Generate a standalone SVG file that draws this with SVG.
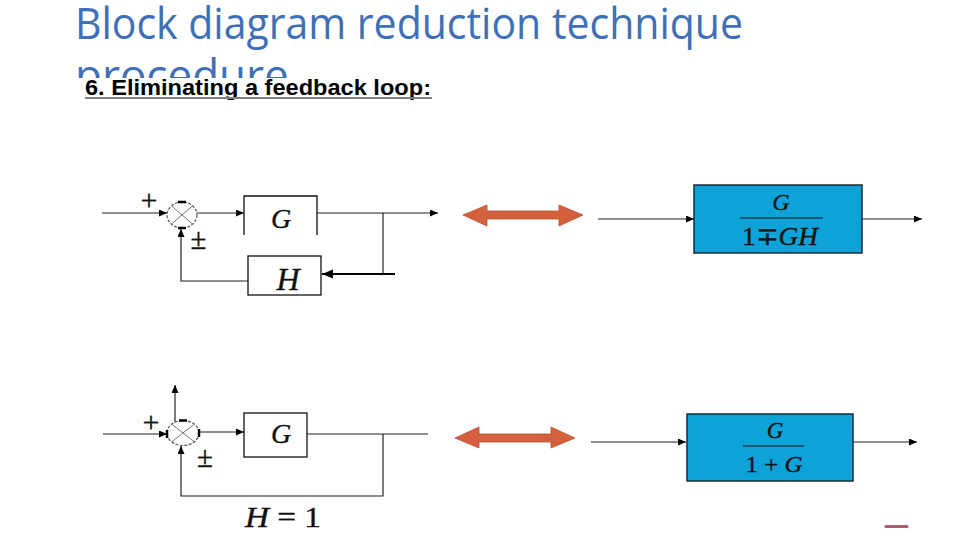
<svg xmlns="http://www.w3.org/2000/svg" width="960" height="540" viewBox="0 0 960 540">
  <style>
    .title { font-family: "Open Sans", "Noto Sans", "DejaVu Sans", sans-serif; font-size: 44px; fill: #3F70B7; }
    .sub { font-family: "Liberation Sans", Arial, sans-serif; font-weight: bold; font-size: 22px; fill: #000; }
    .math { font-family: "Liberation Serif", "Times New Roman", serif; fill: #111; stroke: #111; stroke-width: 0.35; }
    .it { font-style: italic; }
    .ln { stroke: #222; stroke-width: 1.2; fill: none; }
    .box { stroke: #111; stroke-width: 1.3; fill: #fff; }
    .blue { stroke: #1a2a3a; stroke-width: 1.5; fill: #0DA2D8; }
    .sum { stroke: #555; stroke-width: 1.2; fill: #fff; stroke-dasharray: 3 1.5; }
    .cross { stroke: #777; stroke-width: 1; }
    .tick { stroke: #000; stroke-width: 2.5; }
    .dbl { fill: #D4603E; stroke: #B8502F; stroke-width: 0.8; }
  </style>
  <defs>
    <marker id="ah" markerUnits="userSpaceOnUse" markerWidth="9" markerHeight="8" refX="8" refY="3.5" orient="auto">
      <path d="M0,0 L8,3.5 L0,7 z" fill="#000"/>
    </marker>
    <marker id="ahb" markerUnits="userSpaceOnUse" markerWidth="12" markerHeight="10" refX="11" refY="4.5" orient="auto">
      <path d="M0,0 L11,4.5 L0,9 z" fill="#000"/>
    </marker>
  </defs>
  <rect width="960" height="540" fill="#fff"/>

  <g id="title">
    <text class="title" x="75" y="39" textLength="668" lengthAdjust="spacingAndGlyphs">Block diagram reduction technique</text>
    <text class="title" x="75" y="91">procedure</text>
    <rect x="70" y="78" width="375" height="30" fill="#fff"/>
    <text class="sub" x="85" y="95" textLength="346" lengthAdjust="spacingAndGlyphs">6. Eliminating a feedback loop:</text>
    <line x1="85" y1="98" x2="432" y2="98" stroke="#7f7f7f" stroke-width="2"/>
  </g>

  <g id="connectors">
    <line class="ln" x1="102" y1="213" x2="167" y2="213" marker-end="url(#ah)"/>
    <line class="ln" x1="197" y1="213" x2="244" y2="213" marker-end="url(#ah)"/>
    <line class="ln" x1="317" y1="213" x2="438" y2="213" stroke="#555" marker-end="url(#ah)"/>
    <line class="ln" x1="383" y1="213" x2="383" y2="274"/>
    <line x1="395" y1="274" x2="322" y2="274" stroke="#000" stroke-width="2" marker-end="url(#ahb)"/>
    <polyline class="ln" points="248,281 181,281 181,229" marker-end="url(#ah)"/>
    <line class="ln" x1="598" y1="219" x2="694" y2="219" marker-end="url(#ah)"/>
    <line class="ln" x1="862" y1="219" x2="922" y2="219" marker-end="url(#ah)"/>
    <line class="ln" x1="103" y1="434" x2="167" y2="434" marker-end="url(#ah)"/>
    <line class="ln" x1="175" y1="436" x2="175" y2="385" marker-end="url(#ah)"/>
    <line class="ln" x1="199" y1="432" x2="244" y2="432" stroke="#888" marker-end="url(#ah)"/>
    <line class="ln" x1="307" y1="434" x2="428" y2="434"/>
    <polyline class="ln" points="383,434 383,496 181,496 181,446" marker-end="url(#ah)"/>
    <line class="ln" x1="591" y1="442" x2="686" y2="442" marker-end="url(#ah)"/>
    <line class="ln" x1="853" y1="442" x2="917" y2="442" marker-end="url(#ah)"/>
  </g>

  <g id="sum1">
    <ellipse class="sum" cx="182" cy="215" rx="15" ry="13"/>
    <line class="cross" x1="171.4" y1="205.8" x2="192.6" y2="224.2"/>
    <line class="cross" x1="192.6" y1="205.8" x2="171.4" y2="224.2"/>
    <line class="tick" x1="178" y1="202" x2="186" y2="202"/>
    <line class="tick" x1="178" y1="228" x2="186" y2="228"/>
    <text class="math" x="149" y="210" font-size="30" text-anchor="middle" stroke-width="0">+</text>
    <text class="math" x="198.5" y="249" font-size="29" text-anchor="middle" stroke-width="0">±</text>
  </g>

  <g id="G1">
    <path class="box" d="M244,235 V196 H317 V235"/>
    <text class="math it" x="281" y="228" font-size="28" text-anchor="middle">G</text>
  </g>

  <g id="H1">
    <rect class="box" x="248" y="256" width="73" height="39"/>
    <text class="math it" x="288" y="290" font-size="32" text-anchor="middle">H</text>
  </g>

  <g id="equiv1">
    <polygon class="dbl" points="463,215 487,205 487,211 559,211 559,205 583,215 559,226 559,219 487,219 487,226"/>
  </g>

  <g id="TF1">
    <rect class="blue" x="694" y="185" width="168" height="68"/>
    <text class="math it" x="781" y="210" font-size="24" text-anchor="middle">G</text>
    <line x1="740" y1="218" x2="823" y2="218" stroke="#111" stroke-width="1"/>
    <text class="math" x="780" y="245" font-size="25" text-anchor="middle" textLength="76" lengthAdjust="spacingAndGlyphs">1∓<tspan class="it">GH</tspan></text>
  </g>

  <g id="sum2">
    <ellipse class="sum" cx="183" cy="433" rx="16" ry="12.5"/>
    <line class="cross" x1="171.7" y1="424.2" x2="194.3" y2="441.8"/>
    <line class="cross" x1="194.3" y1="424.2" x2="171.7" y2="441.8"/>
    <line class="tick" x1="179" y1="420.5" x2="187" y2="420.5"/>
    <line class="tick" x1="199" y1="429" x2="199" y2="437"/>
    <line class="tick" x1="167" y1="430" x2="167" y2="438"/>
    <text class="math" x="151" y="432" font-size="30" text-anchor="middle" stroke-width="0">+</text>
    <text class="math" x="205" y="467" font-size="29" text-anchor="middle" stroke-width="0">±</text>
  </g>

  <g id="G2">
    <rect class="box" x="244" y="413" width="63" height="44"/>
    <text class="math it" x="281" y="443" font-size="28" text-anchor="middle">G</text>
  </g>

  <g id="H2label">
    <text class="math" x="245" y="527" font-size="30" textLength="76" lengthAdjust="spacingAndGlyphs"><tspan class="it">H</tspan> = 1</text>
  </g>

  <g id="equiv2">
    <polygon class="dbl" points="455,438 479,427 479,434 551,434 551,427 575,438 551,448 551,442 479,442 479,448"/>
  </g>

  <g id="TF2">
    <rect class="blue" x="687" y="414" width="166" height="67"/>
    <text class="math it" x="775" y="438" font-size="23" text-anchor="middle">G</text>
    <line x1="743" y1="446" x2="804" y2="446" stroke="#111" stroke-width="1"/>
    <text class="math" x="774" y="472" font-size="23" text-anchor="middle" textLength="57" lengthAdjust="spacingAndGlyphs">1 + <tspan class="it">G</tspan></text>
  </g>

  <line x1="886" y1="526.5" x2="907" y2="526.5" stroke="#A0304F" stroke-width="3" stroke-linecap="round" opacity="0.8"/>
</svg>
